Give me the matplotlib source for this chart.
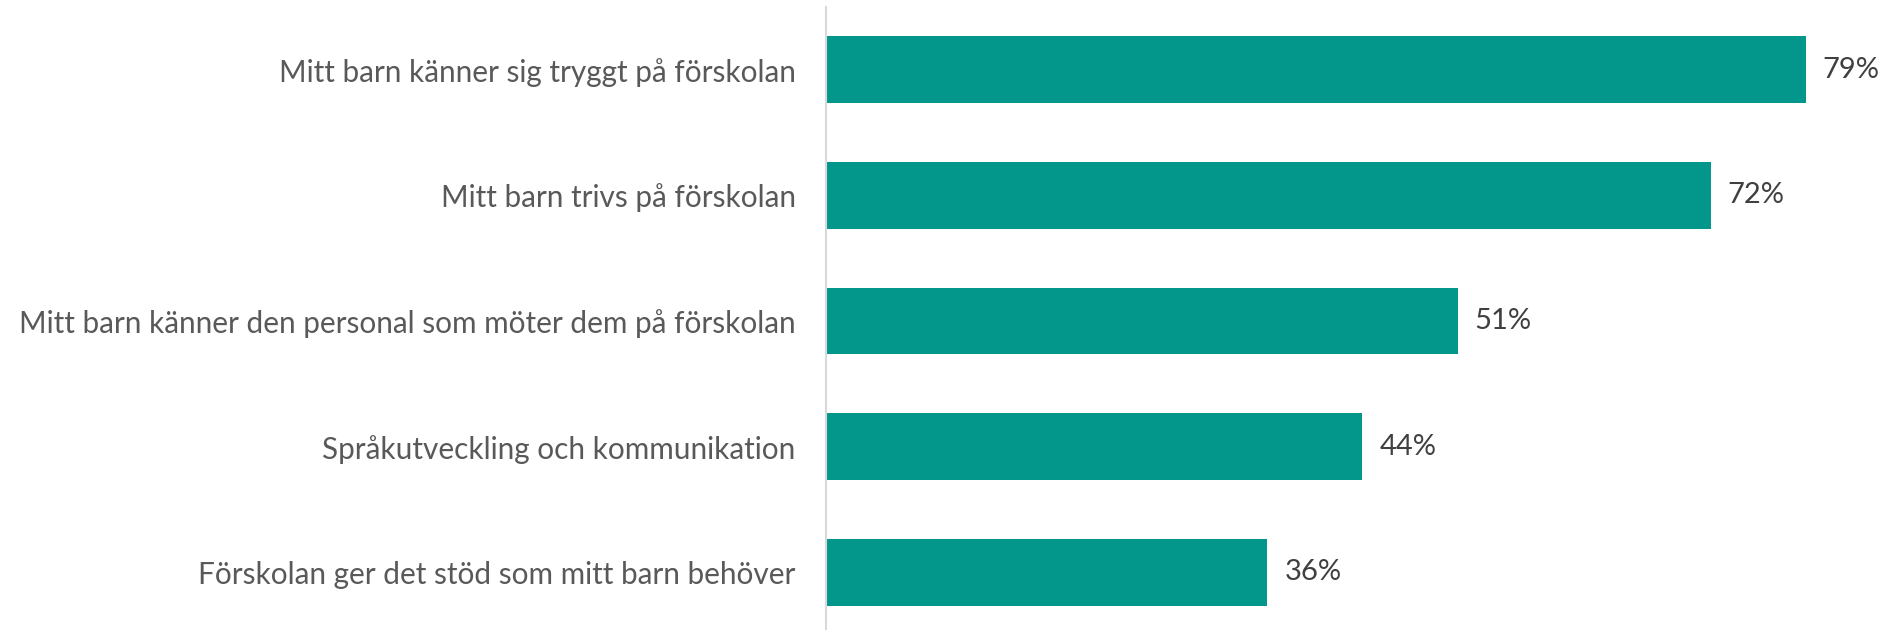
import matplotlib
matplotlib.use("Agg")
import matplotlib.pyplot as plt

categories = [
    "Mitt barn känner sig tryggt på förskolan",
    "Mitt barn trivs på förskolan",
    "Mitt barn känner den personal som möter dem på förskolan",
    "Språkutveckling och kommunikation",
    "Förskolan ger det stöd som mitt barn behöver",
]
values = [79.45, 71.75, 51.24, 43.53, 35.83]

plt.rcParams['font.family'] = ['Lato', 'DejaVu Sans']

W, H = 1885, 630
fig = plt.figure(figsize=(W / 100, H / 100), dpi=100)
left_px, top_px = 825.5, 7
xmax = 80
scale = 12.335
ax = fig.add_axes([left_px / W, -5 / H, xmax * scale / W, (H - top_px + 5) / H])

ypos = list(range(len(categories)))
ax.barh(ypos, values, height=0.533, color="#03978C", zorder=2)
ax.set_ylim(len(categories) - 0.5, -0.5)
ax.set_xlim(0, xmax)

for y, v in zip(ypos, values):
    ax.annotate(f"{v:.0f}%", xy=(v, y), xytext=(17, 0), textcoords="offset pixels",
                ha="left", va="center", fontsize=21, color="#404040")

ax.set_yticks(ypos)
ax.set_yticklabels(categories, fontsize=21.4, color="#595959")
ax.tick_params(axis="y", length=0, pad=21.6)
ax.set_xticks([])
for s in ["top", "right", "bottom"]:
    ax.spines[s].set_visible(False)
ax.spines["left"].set_color("#D9D9D9")
ax.spines["left"].set_linewidth(1.5)
ax.patch.set_alpha(0)

fig.savefig("out.png", dpi=100)
